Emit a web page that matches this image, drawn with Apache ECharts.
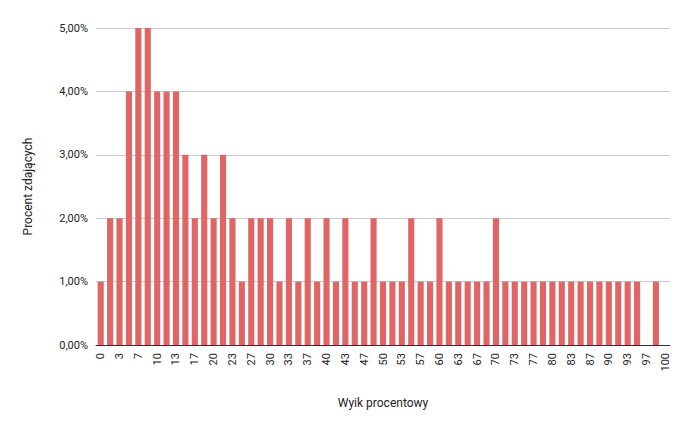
<!DOCTYPE html>
<html><head><meta charset="utf-8">
<script src="https://cdn.jsdelivr.net/npm/echarts@6/dist/echarts.min.js"></script>
<style>html,body{margin:0;padding:0;background:#fff}#c{width:691px;height:426px}</style>
</head><body><div id="c"></div>
<script>
var categories = ['0','2','3','5','7','8','10','12','13','15','17','18','20','22','23','25','27','28','30','32','33','35','37','38','40','42','43','45','47','48','50','52','53','55','57','58','60','62','63','65','67','68','70','72','73','75','77','78','80','82','83','85','87','88','90','92','93','95','97','98','100'];
var values = [1,2,2,4,5,5,4,4,4,3,2,3,2,3,2,1,2,2,2,1,2,1,2,1,2,1,2,1,1,2,1,1,1,2,1,1,2,1,1,1,1,1,2,1,1,1,1,1,1,1,1,1,1,1,1,1,1,1,0,1,0];
var yTicks = [0, 1, 2, 3, 4, 5];

var chart = echarts.init(document.getElementById('c'), null, { renderer: 'svg' });
chart.setOption({
  animation: false,
  textStyle: { fontFamily: 'Roboto, Arial, sans-serif' },
  grid: { left: 96, right: 21, top: 28, bottom: 81 },
  xAxis: {
    type: 'category',
    data: categories,
    name: 'Wyik procentowy',
    nameLocation: 'middle',
    nameGap: 52,
    nameTextStyle: { color: '#222', fontSize: 12 },
    axisTick: { show: false },
    axisLine: { lineStyle: { color: '#333' } },
    axisLabel: { rotate: 90, interval: 1, color: '#222', fontSize: 11 }
  },
  yAxis: {
    type: 'value',
    min: yTicks[0],
    max: yTicks[yTicks.length - 1],
    interval: 1,
    name: 'Procent zdających',
    nameLocation: 'middle',
    nameGap: 62,
    nameTextStyle: { color: '#222', fontSize: 12 },
    axisLabel: { color: '#222', fontSize: 11, formatter: function (v) { return v.toFixed(2).replace('.', ',') + '%'; } },
    splitLine: { lineStyle: { color: '#ccc' } }
  },
  series: [{
    type: 'bar',
    data: values,
    barCategoryGap: '35%',
    itemStyle: { color: '#e06666' }
  }]
});
</script></body></html>
